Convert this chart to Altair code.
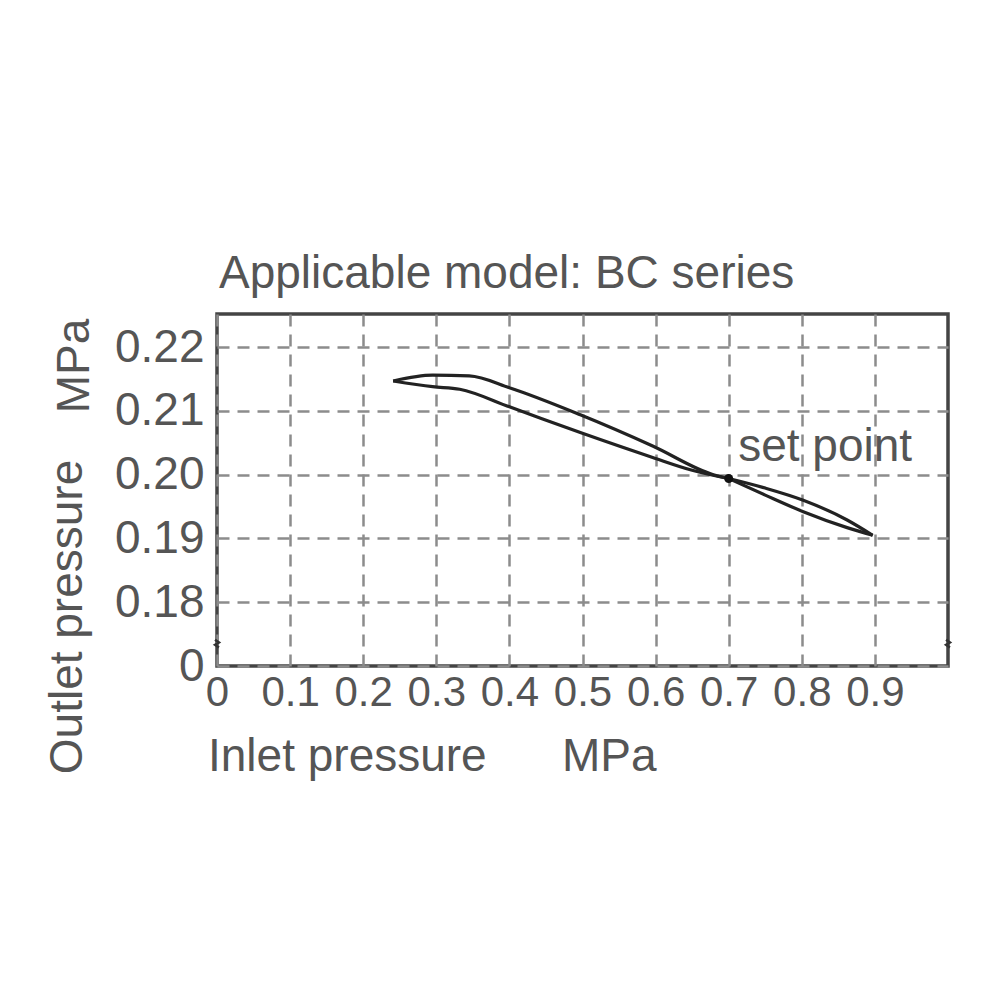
import altair as alt
import pandas as pd

# ---- data ----
x_ticks = [0.0, 0.1, 0.2, 0.3, 0.4, 0.5, 0.6, 0.7, 0.8, 0.9]
y_ticks = [0.17, 0.18, 0.19, 0.20, 0.21, 0.22]

# four branches of the hysteresis loop (each monotone in x)
upper_left_x = [0.241, 0.295, 0.345, 0.401, 0.497, 0.596, 0.679, 0.700]
upper_left_y = [0.2147, 0.2156, 0.2155, 0.2136, 0.2094, 0.2045, 0.2000, 0.1994]
lower_left_x = [0.241, 0.295, 0.332, 0.401, 0.497, 0.596, 0.650, 0.700]
lower_left_y = [0.2147, 0.2138, 0.2134, 0.2106, 0.2066, 0.2027, 0.2007, 0.1994]
upper_right_x = [0.700, 0.750, 0.802, 0.862, 0.897]
upper_right_y = [0.1994, 0.1979, 0.1960, 0.1929, 0.1905]
lower_right_x = [0.700, 0.750, 0.802, 0.862, 0.897]
lower_right_y = [0.1994, 0.1968, 0.1942, 0.1917, 0.1905]

set_point_x = [0.700]
set_point_y = [0.1994]
set_label = ["set point"]
set_label_x = [0.713]
set_label_y = [0.2043]

break_x = [0.0, 1.0]
break_y = [0.1735, 0.1735]

title_text = "Applicable model: BC series"
x_title = "Inlet pressure"
y_title = "Outlet pressure"
unit = "MPa"

FONT = "Liberation Sans"
TXT = "#555555"

rows = []
for name, xs, ys in [("ul", upper_left_x, upper_left_y), ("ll", lower_left_x, lower_left_y),
                     ("ur", upper_right_x, upper_right_y), ("lr", lower_right_x, lower_right_y)]:
    for a, b in zip(xs, ys):
        rows.append({"branch": name, "x": a, "y": b})
curve = pd.DataFrame(rows)

xscale = alt.Scale(domain=[0, 1.0], nice=False, zero=False)
yscale = alt.Scale(domain=[0.17, 0.2252], nice=False, zero=False)

xaxis = alt.Axis(values=x_ticks, labelExpr="datum.value == 0 ? '0' : format(datum.value, '.1f')",
                 ticks=False, domain=False, grid=True, gridDash=[12, 8], gridColor="#8c8c8c",
                 gridWidth=2.5, labelFont=FONT, labelFontSize=42, labelColor=TXT,
                 labelPadding=6, labelFlush=False, labelOverlap=False, labelBound=False, title=None)
yaxis = alt.Axis(values=y_ticks, labelExpr="datum.value < 0.175 ? '0' : format(datum.value, '.2f')",
                 ticks=False, domain=False, grid=True, gridDash=[12, 8], gridColor="#8c8c8c",
                 gridWidth=2.5, labelFont=FONT, labelFontSize=46, labelColor=TXT,
                 labelPadding=13, labelFlush=False, labelOverlap=False, labelBound=False, title=None)

lines = alt.Chart(curve).mark_line(color="#222222", strokeWidth=3.2, interpolate="monotone").encode(
    x=alt.X("x:Q", scale=xscale, axis=xaxis),
    y=alt.Y("y:Q", scale=yscale, axis=yaxis),
    detail="branch:N",
    order="x:Q",
)

sp = alt.Chart(pd.DataFrame({"x": set_point_x, "y": set_point_y})).mark_point(
    filled=True, color="#111111", size=80, opacity=1).encode(
    x=alt.X("x:Q", scale=xscale), y=alt.Y("y:Q", scale=yscale))

sp_label = alt.Chart(pd.DataFrame({"x": set_label_x, "y": set_label_y, "t": set_label})).mark_text(
    font=FONT, fontSize=46, color=TXT, align="left", baseline="middle").encode(
    x=alt.X("x:Q", scale=xscale), y=alt.Y("y:Q", scale=yscale), text="t:N")

brk = alt.Chart(pd.DataFrame({"x": break_x, "y": break_y})).mark_point(
    shape="M-0.5,-1L0.5,-0.3L-0.5,0.3L0.5,1", filled=False, stroke="#333333",
    strokeWidth=2.5, size=60, opacity=1).encode(
    x=alt.X("x:Q", scale=xscale), y=alt.Y("y:Q", scale=yscale))

one = pd.DataFrame({"a": [0]})


def label(text, x, y, angle=0, align="left"):
    return alt.Chart(one).mark_text(
        text=text, font=FONT, fontSize=46, color=TXT, align=align, baseline="middle",
        angle=angle).encode(x=alt.value(x), y=alt.value(y))


title = label(title_text, 2, -40)
xt = label(x_title, -9, 443)
xu = label(unit, 345, 443)
yt = label(y_title, -149, 303, angle=270, align="center")
yu = label(unit, -142, 52, angle=270, align="center")

chart = alt.layer(lines, sp, sp_label, brk, title, xt, xu, yt, yu).properties(
    width=731, height=352,
    autosize=alt.AutoSizeParams(type="none"),
    padding={"left": 209, "top": 306, "right": 40, "bottom": 300},
    background="white",
).configure_view(stroke="#444444", strokeWidth=3.5)

chart.save("out.html", embed_options={"renderer": "svg", "actions": False})
